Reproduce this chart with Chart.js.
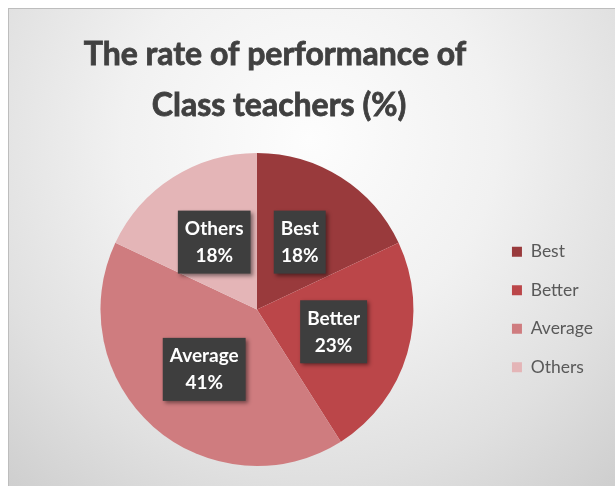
<!DOCTYPE html>
<html>
<head>
<meta charset="utf-8">
<script src="https://cdn.jsdelivr.net/npm/chart.js"></script>
<style>
    html, body { margin: 0; padding: 0; background: #fff; }
    #wrap { width: 615px; height: 486px; }
</style>
</head>
<body>
<div id="wrap"><canvas id="pie"></canvas></div>
<script>
// data
let categories = ['Best', 'Better', 'Average', 'Others'];
let shares = [18, 23, 41, 18];
let titleLines = ['The rate of performance of', 'Class teachers (%)'];

let sliceColors = ['#993a3c', '#bb4649', '#cf7c7f', '#e4b5b7'];

// gray panel with a soft light spot behind the title
const panelBackground = {
    id: 'panelBackground',
    beforeDraw(chart) {
        let ctx = chart.ctx;
        ctx.save();
        ctx.fillStyle = '#ffffff';
        ctx.fillRect(0, 0, chart.width, chart.height);
        let g = ctx.createRadialGradient(310, 140, 0, 310, 140, 470);
        g.addColorStop(0, '#fdfdfd');
        g.addColorStop(0.4, '#f1f1f1');
        g.addColorStop(0.72, '#e0e0e0');
        g.addColorStop(1, '#cdcdcd');
        ctx.fillStyle = g;
        ctx.fillRect(8, 8, chart.width - 8, chart.height - 8);
        ctx.fillStyle = '#bdbdbd';
        ctx.fillRect(8, 8, chart.width - 8, 1);
        ctx.fillRect(8, 8, 1, chart.height - 8);
        ctx.restore();
    }
};

// two line title, drawn by hand so it can sit off the canvas centre
const titleText = {
    id: 'titleText',
    afterDraw(chart) {
        let ctx = chart.ctx;
        ctx.save();
        ctx.font = 'bold 32px Lato';
        ctx.fillStyle = '#404040';
        ctx.strokeStyle = '#404040';
        ctx.lineWidth = 0.8;
        ctx.textAlign = 'center';
        ctx.textBaseline = 'alphabetic';
        ctx.fillText(titleLines[0], 275, 65);
        ctx.strokeText(titleLines[0], 275, 65);
        ctx.fillText(titleLines[1], 279, 116);
        ctx.strokeText(titleLines[1], 279, 116);
        ctx.restore();
    }
};

// dark callout boxes with name and percent
const sliceLabels = {
    id: 'sliceLabels',
    afterDatasetsDraw(chart) {
        let ctx = chart.ctx;
        let meta = chart.getDatasetMeta(0);
        ctx.save();
        ctx.font = 'bold 19px Lato';
        ctx.textAlign = 'center';
        ctx.textBaseline = 'middle';
        meta.data.forEach((arc, i) => {
            let p = arc.getProps(['x', 'y', 'startAngle', 'endAngle', 'outerRadius'], true);
            let mid = (p.startAngle + p.endAngle) / 2;
            let r = p.outerRadius * 0.51;
            let cx = p.x + Math.cos(mid) * r,
                cy = p.y + Math.sin(mid) * r;
            let line1 = chart.data.labels[i],
                line2 = chart.data.datasets[0].data[i] + '%';
            let w = Math.max(ctx.measureText(line1).width, ctx.measureText(line2).width) + 14,
                h = 63;

            ctx.shadowColor = 'rgba(0,0,0,0.45)';
            ctx.shadowBlur = 4;
            ctx.shadowOffsetX = 2;
            ctx.shadowOffsetY = 2;
            ctx.fillStyle = '#3e3e3e';
            ctx.fillRect(cx - w / 2, cy - h / 2, w, h);
            ctx.shadowColor = 'transparent';

            ctx.fillStyle = '#ffffff';
            ctx.fillText(line1, cx, cy - 13);
            ctx.fillText(line2, cx, cy + 14);
        });
        ctx.restore();
    }
};

let ctx = document.getElementById('pie').getContext('2d');
let pieChart = new Chart(ctx, {
    type: 'pie',
    data: {
        labels: categories,
        datasets: [{
            data: shares,
            backgroundColor: sliceColors,
            borderWidth: 0
        }]
    },
    options: {
        responsive: true,
        maintainAspectRatio: false,
        animation: false,
        layout: {
            padding: { top: 153, bottom: 20, left: 23, right: 12 }
        },
        plugins: {
            title: { display: false },
            tooltip: { enabled: false },
            legend: {
                position: 'right',
                labels: {
                    boxWidth: 10,
                    boxHeight: 10,
                    padding: 21,
                    color: '#595959',
                    font: { family: 'Lato', size: 17.5 }
                }
            }
        }
    },
    plugins: [panelBackground, titleText, sliceLabels]
});
</script>
</body>
</html>
